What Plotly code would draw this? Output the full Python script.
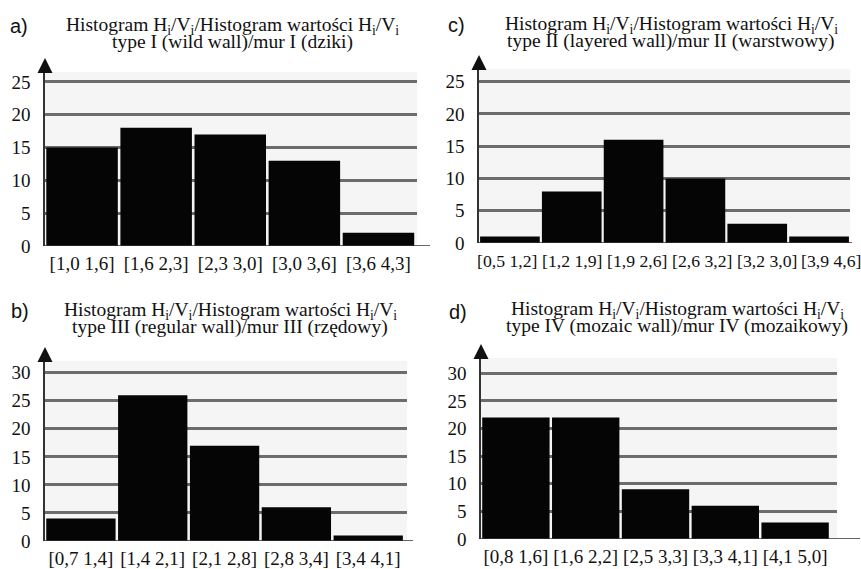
import plotly.graph_objects as go

W, H = 861, 569

# ---- data ----
labels_a = ["[1,0 1,6]", "[1,6 2,3]", "[2,3 3,0]", "[3,0 3,6]", "[3,6 4,3]"]
counts_a = [15, 18, 17, 13, 2]

labels_c = ["[0,5 1,2]", "[1,2 1,9]", "[1,9 2,6]", "[2,6 3,2]", "[3,2 3,0]", "[3,9 4,6]"]
counts_c = [1, 8, 16, 10, 3, 1]

labels_b = ["[0,7 1,4]", "[1,4 2,1]", "[2,1 2,8]", "[2,8 3,4]", "[3,4 4,1]"]
counts_b = [4, 26, 17, 6, 1]

labels_d = ["[0,8 1,6]", "[1,6 2,2]", "[2,5 3,3]", "[3,3 4,1]", "[4,1 5,0]"]
counts_d = [22, 22, 9, 6, 3]

title_top = "Histogram H<sub>i</sub>/V<sub>i</sub>/Histogram wartości H<sub>i</sub>/V<sub>i</sub>"
subtitle_a = "type I (wild wall)/mur I (dziki)"
subtitle_c = "type II (layered wall)/mur II (warstwowy)"
subtitle_b = "type III (regular wall)/mur III (rzędowy)"
subtitle_d = "type IV (mozaic wall)/mur IV (mozaikowy)"

# ---- layout of panels (pixel boxes) ----
panels = [
    dict(letter="a)", labels=labels_a, counts=counts_a, sub=subtitle_a,
         xpx=(45, 417), ypx=(246, 72), ymax=26.5, xextra=0.02, axis_ext=13,
         tick_size=19, title_cx=232, title_y=(26, 42), letter_xy=(19, 26),
         yticks=[0, 5, 10, 15, 20, 25], label_spread=None),
    dict(letter="c)", labels=labels_c, counts=counts_c, sub=subtitle_c,
         xpx=(479, 850), ypx=(243, 69), ymax=26.97, xextra=0.0, axis_ext=2,
         tick_size=17.7, title_cx=671, title_y=(25, 41), letter_xy=(456, 25),
         yticks=[0, 5, 10, 15, 20, 25], label_spread=3.07),
    dict(letter="b)", labels=labels_b, counts=counts_b, sub=subtitle_b,
         xpx=(45, 407), ypx=(541, 361), ymax=32.09, xextra=0.04, axis_ext=6,
         tick_size=19, title_cx=230, title_y=(311, 327), letter_xy=(20, 311),
         yticks=[0, 5, 10, 15, 20, 25, 30], label_spread=None),
    dict(letter="d)", labels=labels_d, counts=counts_d, sub=subtitle_d,
         xpx=(481, 837), ypx=(539, 358), ymax=32.77, xextra=0.1, axis_ext=23,
         tick_size=19, title_cx=677, title_y=(310, 326), letter_xy=(458, 312),
         yticks=[0, 5, 10, 15, 20, 25, 30], label_spread=None),
]

SERIF = "Liberation Serif"
SANS = "Liberation Sans"

fig = go.Figure()
layout = dict(
    template="none",
    width=W, height=H, margin=dict(l=0, r=0, t=0, b=0, pad=0),
    paper_bgcolor="white", plot_bgcolor="#f5f5f5",
    showlegend=False, shapes=[], annotations=[],
)

for i, p in enumerate(panels):
    n = i + 1
    xa = "x" if n == 1 else f"x{n}"
    ya = "y" if n == 1 else f"y{n}"
    xkey = "xaxis" if n == 1 else f"xaxis{n}"
    ykey = "yaxis" if n == 1 else f"yaxis{n}"

    fig.add_trace(go.Bar(
        x=p["labels"], y=p["counts"], xaxis=xa, yaxis=ya,
        marker=dict(color="#050505", line=dict(width=0)), width=0.965,
        hoverinfo="x+y",
    ))

    x0, x1 = p["xpx"]
    yb, yt = p["ypx"]
    ncat = len(p["labels"])
    spread = p["label_spread"]
    layout[xkey] = dict(
        domain=[x0 / W, x1 / W], anchor=ya, type="category",
        range=[-0.5, ncat - 0.5 + p["xextra"]], automargin=False,
        showgrid=False, showline=False, zeroline=False, ticks="", tickangle=0,
        showticklabels=spread is None,
        tickfont=dict(family=SERIF, size=p["tick_size"], color="#111"),
        ticklabelstandoff=4, fixedrange=True,
    )
    layout[ykey] = dict(
        domain=[1 - yb / H, 1 - yt / H], anchor=xa, automargin=False,
        range=[0, p["ymax"]], tickvals=p["yticks"],
        showgrid=True, gridcolor="#6c6c6c", gridwidth=2.5,
        showline=True, linecolor="#333", linewidth=1.5,
        zeroline=False, ticks="",
        tickfont=dict(family=SERIF, size=19, color="#111"),
        ticklabelstandoff=9, fixedrange=True,
    )

    # category labels spread a bit wider than the bars (panel c)
    if spread is not None:
        for k, lab in enumerate(p["labels"]):
            layout["annotations"].append(dict(
                text=lab, xref=xa, yref=ya, x=lab, y=0,
                xanchor="center", yanchor="middle", showarrow=False,
                xshift=-3 + spread * k, yshift=-18,
                font=dict(family=SERIF, size=p["tick_size"], color="#111"),
            ))

    dom_x = "x domain" if n == 1 else f"x{n} domain"
    dom_y = "y domain" if n == 1 else f"y{n} domain"
    # x axis line, extending past the plot area
    layout["shapes"].append(dict(
        type="line", xref=dom_x, yref=ya, y0=0, y1=0,
        xsizemode="pixel", xanchor=0, x0=0, x1=(x1 - x0) + p["axis_ext"],
        line=dict(color="#333", width=1.5), layer="above",
    ))
    # arrow head on the y axis
    layout["shapes"].append(dict(
        type="path", xref=dom_x, yref=dom_y,
        xsizemode="pixel", ysizemode="pixel", xanchor=0, yanchor=1,
        path="M -7.5,-1 L 7.5,-1 L 0,14 Z",
        fillcolor="#111", line=dict(width=0), layer="above",
    ))

    cx = p["title_cx"] / W
    layout["annotations"].append(dict(
        text=title_top, xref="paper", yref="paper", x=cx, y=1 - p["title_y"][0] / H,
        xanchor="center", yanchor="middle", showarrow=False,
        font=dict(family=SERIF, size=19.5, color="#111"),
    ))
    layout["annotations"].append(dict(
        text=p["sub"], xref="paper", yref="paper", x=cx, y=1 - p["title_y"][1] / H,
        xanchor="center", yanchor="middle", showarrow=False,
        font=dict(family=SERIF, size=19.5, color="#111"),
    ))
    lx, ly = p["letter_xy"]
    layout["annotations"].append(dict(
        text=p["letter"], xref="paper", yref="paper", x=lx / W, y=1 - ly / H,
        xanchor="center", yanchor="middle", showarrow=False,
        font=dict(family=SANS, size=20, color="#111"),
    ))

fig.update_layout(**layout)
fig.write_html(
    "out.html",
    config={"displayModeBar": False},
    post_script="document.body.style.margin='0';document.body.style.overflow='hidden';",
)
